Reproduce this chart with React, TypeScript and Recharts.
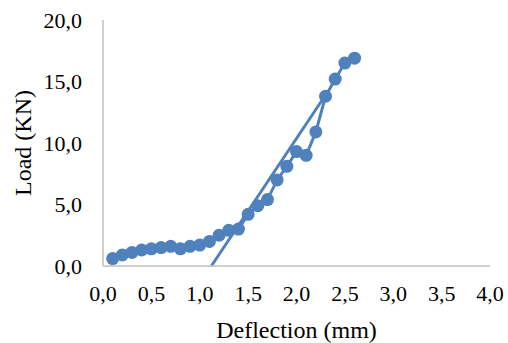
import React from 'react';
import { ComposedChart, Line, XAxis, YAxis } from 'recharts';

const deflection = [0.1, 0.2, 0.3, 0.4, 0.5, 0.6, 0.7, 0.8, 0.9, 1.0, 1.1, 1.2, 1.3, 1.4, 1.5, 1.6, 1.7, 1.8, 1.9, 2.0, 2.1, 2.2, 2.3, 2.4, 2.5, 2.6];
const load = [0.6, 0.9, 1.1, 1.3, 1.4, 1.5, 1.6, 1.4, 1.6, 1.7, 2.0, 2.5, 2.9, 3.0, 4.2, 4.9, 5.4, 7.0, 8.1, 9.3, 9.0, 10.9, 13.8, 15.2, 16.5, 16.9];
const trendX = [1.12, 2.3];
const trendY = [0.0, 13.9];
const xTicks = [0, 0.5, 1, 1.5, 2, 2.5, 3, 3.5, 4];
const yTicks = [0, 5, 10, 15, 20];

const seriesData = deflection.map((x, i) => ({ x, y: load[i] }));
const trendData = trendX.map((x, i) => ({ x, y: trendY[i] }));

const COLOR = '#4F81BD';
const FONT = 'Liberation Serif';
const fmt = (v: number) => v.toFixed(1).replace('.', ',');

export default function App() {
  return (
    <div style={{ position: 'absolute', left: 0, top: 0, background: '#fff' }}>
      <ComposedChart width={508} height={343} margin={{ top: 20, right: 18, bottom: 0, left: 0 }}>
        <XAxis
          type="number"
          dataKey="x"
          domain={[0, 4]}
          ticks={xTicks}
          tickFormatter={fmt}
          height={77}
          tickLine={false}
          tickSize={0}
          tickMargin={19}
          axisLine={{ stroke: '#BFBFBF', strokeWidth: 1.5 }}
          tick={{ fill: '#000', fontSize: 22, fontFamily: FONT }}
          interval={0}
          allowDataOverflow
          label={{ value: 'Deflection (mm)', position: 'insideBottom', offset: 5, fill: '#000', fontSize: 24, fontFamily: FONT }}
        />
        <YAxis
          type="number"
          domain={[0, 20]}
          ticks={yTicks}
          tickFormatter={fmt}
          width={103}
          tickLine={false}
          tickSize={0}
          tickMargin={21}
          axisLine={{ stroke: '#BFBFBF', strokeWidth: 1.5 }}
          tick={{ fill: '#000', fontSize: 22, fontFamily: FONT }}
          interval={0}
          label={{
            value: 'Load (KN)',
            content: (props: any) => {
              const vb = props.viewBox;
              const cx = vb.x + 23;
              const cy = vb.y + vb.height / 2;
              return (
                <text
                  x={cx}
                  y={cy}
                  transform={`rotate(-90, ${cx}, ${cy})`}
                  textAnchor="middle"
                  dominantBaseline="central"
                  fill="#000"
                  fontSize={24}
                  fontFamily={FONT}
                >
                  Load (KN)
                </text>
              );
            },
          }}
        />
        <Line
          data={trendData}
          dataKey="y"
          type="linear"
          stroke={COLOR}
          strokeWidth={3}
          dot={false}
          activeDot={false}
          isAnimationActive={false}
        />
        <Line
          data={seriesData}
          dataKey="y"
          type="linear"
          stroke={COLOR}
          strokeWidth={3}
          dot={{ r: 6.5, fill: COLOR, stroke: COLOR, strokeWidth: 0 }}
          activeDot={false}
          isAnimationActive={false}
        />
      </ComposedChart>
    </div>
  );
}
